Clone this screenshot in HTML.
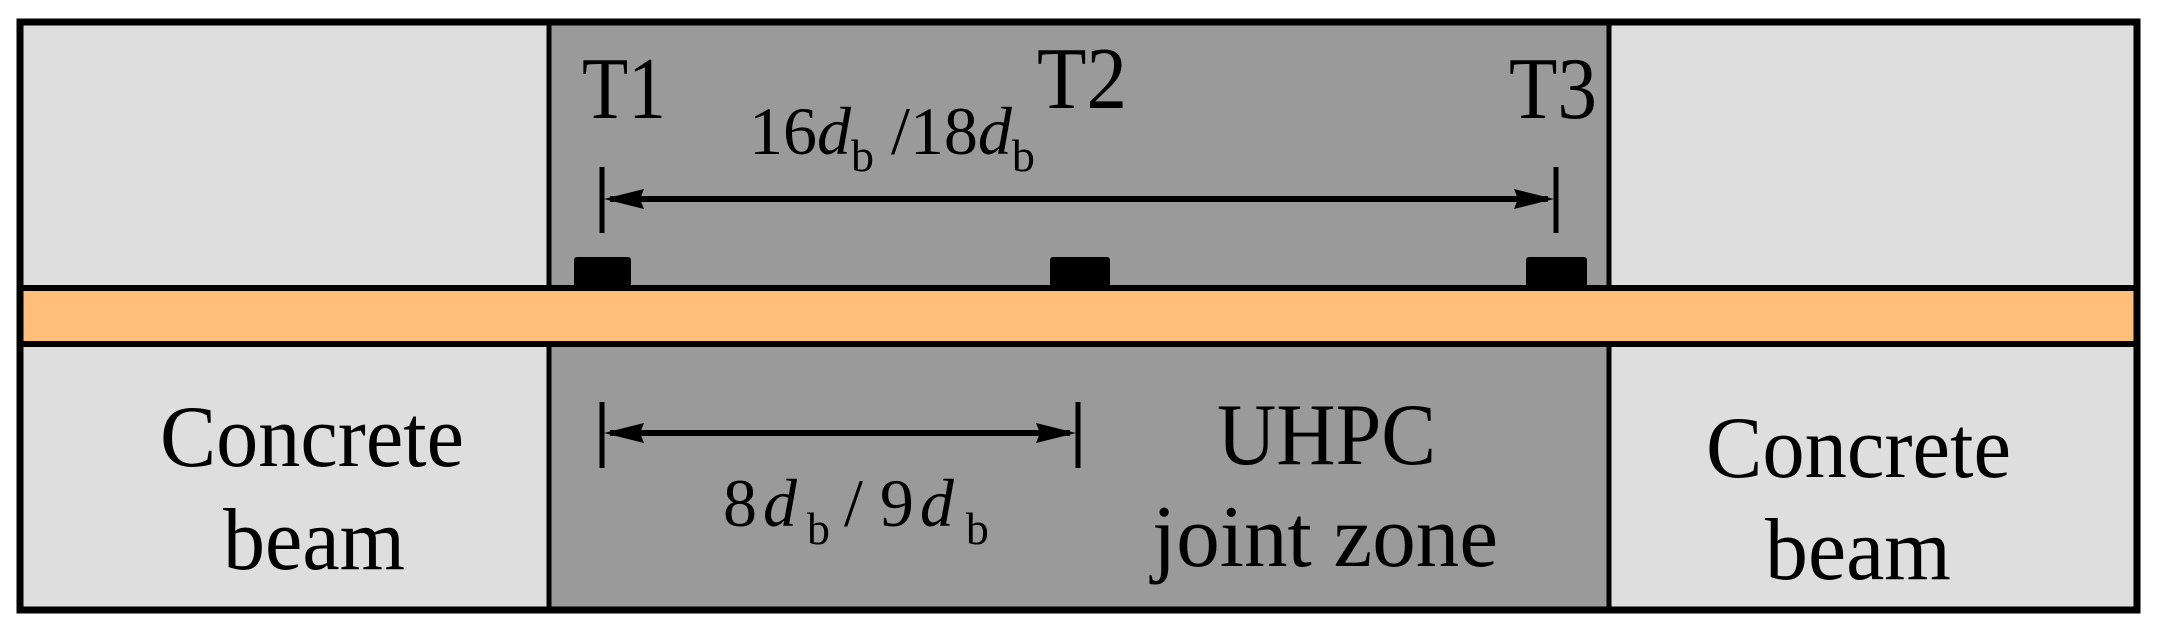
<!DOCTYPE html>
<html><head><meta charset="utf-8"><style>html,body{margin:0;padding:0;background:#fff}svg{display:block}text{font-family:"Liberation Serif",serif}</style></head>
<body>
<svg width="2157" height="630" viewBox="0 0 2157 630" xmlns="http://www.w3.org/2000/svg" fill="#000">
<rect x="0" y="0" width="2157" height="630" fill="#fff"/>
<rect x="20" y="22" width="529" height="588" fill="#dedede"/>
<rect x="1609" y="22" width="528" height="588" fill="#dedede"/>
<rect x="549" y="22" width="1060" height="588" fill="#9a9a9a"/>
<rect x="20" y="286" width="2117" height="59" fill="#ffbe7a"/>
<rect x="574" y="257" width="57" height="30" rx="3"/>
<rect x="1050" y="257" width="60" height="30" rx="3"/>
<rect x="1526" y="257" width="61" height="30" rx="3"/>
<g stroke="#000" fill="none">
<line x1="549" y1="22" x2="549" y2="288" stroke-width="5"/>
<line x1="549" y1="344" x2="549" y2="610" stroke-width="5"/>
<line x1="1609" y1="22" x2="1609" y2="288" stroke-width="5"/>
<line x1="1609" y1="344" x2="1609" y2="610" stroke-width="5"/>
<line x1="20" y1="288" x2="2137" y2="288" stroke-width="6"/>
<line x1="20" y1="344" x2="2137" y2="344" stroke-width="6"/>
<rect x="20" y="22" width="2117" height="588" stroke-width="7"/>
<line x1="602" y1="167" x2="602" y2="233" stroke-width="5"/>
<line x1="1556" y1="167" x2="1556" y2="233" stroke-width="5"/>
<line x1="610" y1="199" x2="1548" y2="199" stroke-width="6"/>
<line x1="602" y1="402" x2="602" y2="468" stroke-width="5"/>
<line x1="1078" y1="402" x2="1078" y2="468" stroke-width="5"/>
<line x1="610" y1="433" x2="1070" y2="433" stroke-width="6"/>
</g>
<polygon points="604,199 644,189 640,199 644,209"/>
<polygon points="1554,199 1514,189 1518,199 1514,209"/>
<polygon points="604,433 644,423 640,433 644,443"/>
<polygon points="1076,433 1036,423 1040,433 1036,443"/>
<g font-size="88">
<text x="582" y="118" textLength="84" lengthAdjust="spacingAndGlyphs">T1</text>
<text x="1037" y="108" textLength="90" lengthAdjust="spacingAndGlyphs">T2</text>
<text x="1509" y="118" textLength="88" lengthAdjust="spacingAndGlyphs">T3</text>
<text x="160" y="466" textLength="304" lengthAdjust="spacingAndGlyphs">Concrete</text>
<text x="223" y="569" textLength="182" lengthAdjust="spacingAndGlyphs">beam</text>
<text x="1217" y="464" textLength="219" lengthAdjust="spacingAndGlyphs">UHPC</text>
<text x="1152" y="566" textLength="346" lengthAdjust="spacingAndGlyphs">joint zone</text>
<text x="1706" y="477" textLength="305" lengthAdjust="spacingAndGlyphs">Concrete</text>
<text x="1765" y="579" textLength="186" lengthAdjust="spacingAndGlyphs">beam</text>
</g>
<g font-size="68">
<text x="749" y="154">16<tspan font-style="italic">d</tspan><tspan font-size="46" dy="17">b</tspan><tspan dy="-17"> /18</tspan><tspan font-style="italic">d</tspan><tspan font-size="46" dy="17">b</tspan></text>
<text x="723" y="526">8<tspan font-style="italic" dx="6">d</tspan><tspan font-size="46" dy="18" dx="10">b</tspan><tspan dy="-18" dx="14">/ 9</tspan><tspan font-style="italic" dx="6">d</tspan><tspan font-size="46" dy="18" dx="12">b</tspan></text>
</g>
</svg>
</body></html>
